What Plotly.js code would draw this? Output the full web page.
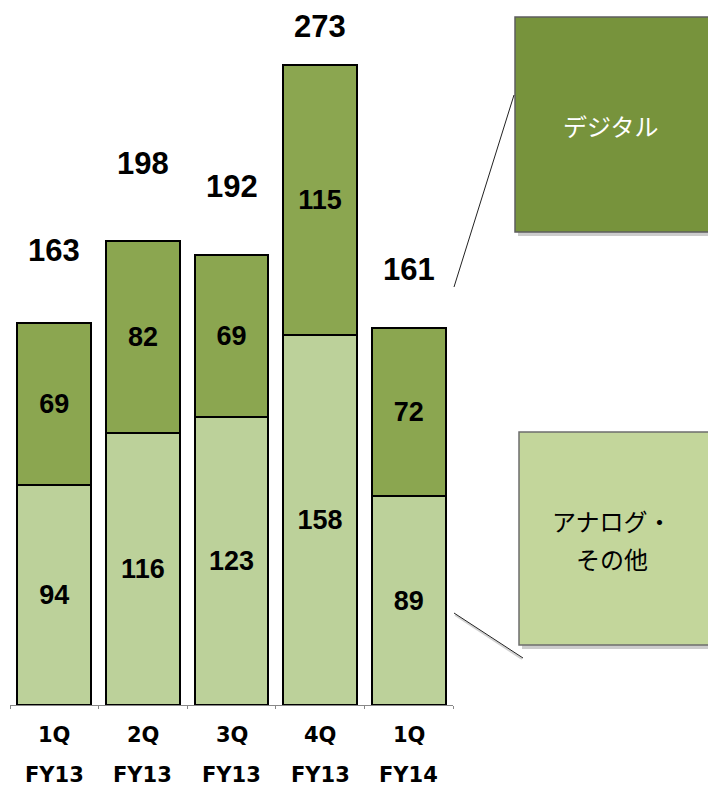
<!DOCTYPE html>
<html>
<head>
<meta charset="utf-8">
<script src="https://cdn.plot.ly/plotly-3.0.1.min.js"></script>
<style>html,body{margin:0;padding:0;background:#fff;}#chart{width:708px;height:786px;}</style>
</head>
<body>
<div id="chart"></div>
<script>
var categories = ["1Q FY13", "2Q FY13", "3Q FY13", "4Q FY13", "1Q FY14"];
var quarterLabels = ["1Q", "2Q", "3Q", "4Q", "1Q"];
var yearLabels = ["FY13", "FY13", "FY13", "FY13", "FY14"];
var analog = [94, 116, 123, 158, 89];
var digital = [69, 82, 69, 115, 72];
var totals = [163, 198, 192, 273, 161];
var seriesNames = ["アナログ・その他", "デジタル"];

var numFont = "'Liberation Sans', Arial, sans-serif";
var catFont = "Verdana, 'DejaVu Sans', sans-serif";
var jpFont = "'Noto Sans CJK JP', sans-serif";
var totalShift = [72, 77, 68, 39, 58];

var traces = [
  {type: "bar", name: seriesNames[0], x: categories, y: analog,
   marker: {color: "#BCD19A", line: {color: "#000", width: 2}},
   text: analog.map(String), textposition: "inside", insidetextanchor: "middle",
   constraintext: "none",
   textfont: {family: numFont, size: 27, color: "#000", weight: "bold"},
   hoverinfo: "none"},
  {type: "bar", name: seriesNames[1], x: categories, y: digital,
   marker: {color: "#8BA650", line: {color: "#000", width: 2}},
   text: digital.map(String), textposition: "inside", insidetextanchor: "middle",
   constraintext: "none",
   textfont: {family: numFont, size: 27, color: "#000", weight: "bold"},
   hoverinfo: "none"}
];

var annotations = [];
categories.forEach(function (c, i) {
  annotations.push({x: c, y: totals[i], xref: "x", yref: "y", text: String(totals[i]),
    showarrow: false, yanchor: "middle", yshift: totalShift[i],
    font: {family: numFont, size: 31, color: "#000", weight: "bold"}});
  annotations.push({x: c, y: 0, xref: "x", yref: "paper", text: quarterLabels[i],
    showarrow: false, yanchor: "middle", yshift: -30,
    font: {family: catFont, size: 21, color: "#000", weight: "bold"}});
  annotations.push({x: c, y: 0, xref: "x", yref: "paper", text: yearLabels[i],
    showarrow: false, yanchor: "middle", yshift: -70,
    font: {family: catFont, size: 21, color: "#000", weight: "bold"}});
});

// plot area in pixels: left 10, width 443; bottom 705, height 685
function px(x) { return (x - 10) / 443; }
function py(y) { return (705 - y) / 685; }

annotations.push({x: px(611), y: py(125), xref: "paper", yref: "paper", text: "デジタル",
  showarrow: false, xanchor: "center", yanchor: "middle",
  font: {family: jpFont, size: 24, color: "#fff"}});
annotations.push({x: px(612), y: py(520), xref: "paper", yref: "paper", text: "アナログ・",
  showarrow: false, xanchor: "center", yanchor: "middle",
  font: {family: jpFont, size: 24, color: "#000"}});
annotations.push({x: px(612), y: py(558), xref: "paper", yref: "paper", text: "その他",
  showarrow: false, xanchor: "center", yanchor: "middle",
  font: {family: jpFont, size: 24, color: "#000"}});

var shapes = [
  // shadows
  {type: "rect", xref: "paper", yref: "paper", x0: px(518), x1: px(712), y0: py(236), y1: py(20),
   fillcolor: "rgba(0,0,0,0.2)", line: {width: 0}, layer: "above"},
  {type: "rect", xref: "paper", yref: "paper", x0: px(515), x1: px(712), y0: py(232), y1: py(17),
   fillcolor: "#77933C", line: {color: "#5E5E5E", width: 1.5}, layer: "above"},
  {type: "rect", xref: "paper", yref: "paper", x0: px(522), x1: px(712), y0: py(649), y1: py(435),
   fillcolor: "rgba(0,0,0,0.2)", line: {width: 0}, layer: "above"},
  {type: "rect", xref: "paper", yref: "paper", x0: px(519), x1: px(712), y0: py(645), y1: py(432),
   fillcolor: "#C3D69B", line: {color: "#6E6E6E", width: 1.5}, layer: "above"},
  // leader lines
  {type: "line", xref: "paper", yref: "paper", x0: px(514), y0: py(95), x1: px(454), y1: py(287),
   line: {color: "#222", width: 1}},
  {type: "line", xref: "paper", yref: "paper", x0: px(455), y0: py(615), x1: px(522), y1: py(659),
   line: {color: "rgba(0,0,0,0.18)", width: 2}},
  {type: "line", xref: "paper", yref: "paper", x0: px(454), y0: py(613), x1: px(523), y1: py(658),
   line: {color: "#222", width: 1}}
];

var layout = {
  width: 708, height: 786,
  margin: {l: 10, r: 255, t: 20, b: 81},
  barmode: "stack", bargap: 0.165,
  showlegend: false,
  paper_bgcolor: "#fff", plot_bgcolor: "#fff",
  xaxis: {type: "category", showticklabels: false, showline: true, linecolor: "#888", linewidth: 1,
          ticks: "outside", ticklen: 3, tickcolor: "#888", tickson: "boundaries", showgrid: false,
          zeroline: false, fixedrange: true},
  yaxis: {range: [0, 292.2], visible: false, showgrid: false, zeroline: false, fixedrange: true},
  annotations: annotations,
  shapes: shapes,
  uniformtext: {mode: false}
};

Plotly.newPlot("chart", traces, layout, {staticPlot: true, displayModeBar: false});
</script>
</body>
</html>
